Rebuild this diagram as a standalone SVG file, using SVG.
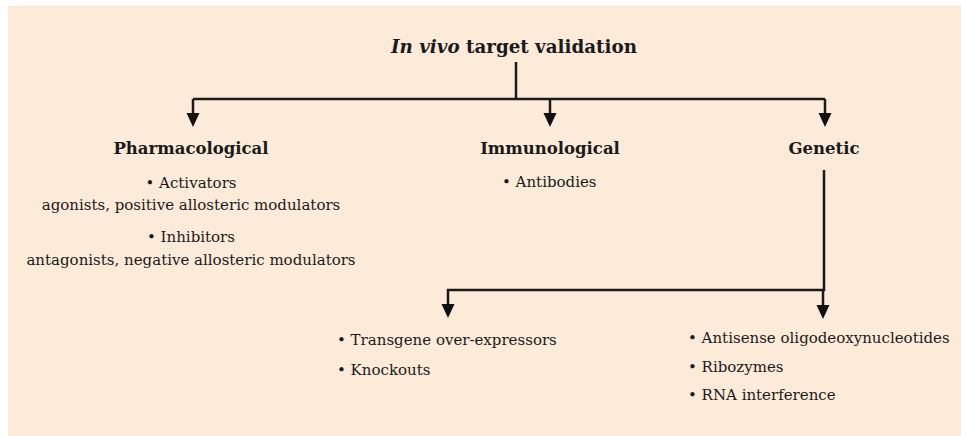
<svg xmlns="http://www.w3.org/2000/svg" width="961" height="436" viewBox="0 0 961 436">
<style>
text{font-family:"DejaVu Serif",serif;fill:#1a1a1a}
.t{font-size:18.3px;font-weight:bold}
.h{font-size:16.5px;font-weight:bold}
.i{font-size:15px}
.c{stroke:#1a1a1a;stroke-width:2.5;fill:none}
.a{fill:#111}
</style>
<rect x="8" y="6" width="953" height="430" fill="#FDEBD9"/>
<g id="connectors">
<path class="c" d="M516,62 V99"/>
<path class="c" d="M193,99 H825"/>
<path class="c" d="M193,99 V114"/>
<path class="c" d="M550,99 V114"/>
<path class="c" d="M825,99 V114"/>
<path class="a" d="M186.5,113 L199.5,113 L193,127 Z"/>
<path class="a" d="M543.5,113 L556.5,113 L550,127 Z"/>
<path class="a" d="M818.5,113 L831.5,113 L825,127 Z"/>
<path class="c" d="M824,170 V290 H448 V305"/>
<path class="c" d="M823,290 V305"/>
<path class="a" d="M441.5,304 L454.5,304 L448,318 Z"/>
<path class="a" d="M816.5,305 L829.5,305 L823,319 Z"/>
</g>
<g id="title"><text class="t" x="514" y="53" text-anchor="middle"><tspan font-style="italic">In vivo</tspan> target validation</text></g>
<g id="pharmacological">
<text class="h" x="191" y="154" text-anchor="middle">Pharmacological</text>
<text class="i" x="191" y="188" text-anchor="middle">• Activators</text>
<text class="i" x="191" y="210" text-anchor="middle">agonists, positive allosteric modulators</text>
<text class="i" x="191" y="242" text-anchor="middle">• Inhibitors</text>
<text class="i" x="191" y="265" text-anchor="middle">antagonists, negative allosteric modulators</text>
</g>
<g id="immunological">
<text class="h" x="550" y="154" text-anchor="middle">Immunological</text>
<text class="i" x="502" y="187">• Antibodies</text>
</g>
<g id="genetic">
<text class="h" x="824" y="154" text-anchor="middle">Genetic</text>
</g>
<g id="transgenic">
<text class="i" x="337" y="345">• Transgene over-expressors</text>
<text class="i" x="337" y="375">• Knockouts</text>
</g>
<g id="antisense">
<text class="i" x="688" y="343">• Antisense oligodeoxynucleotides</text>
<text class="i" x="688" y="372">• Ribozymes</text>
<text class="i" x="688" y="400">• RNA interference</text>
</g>
</svg>
